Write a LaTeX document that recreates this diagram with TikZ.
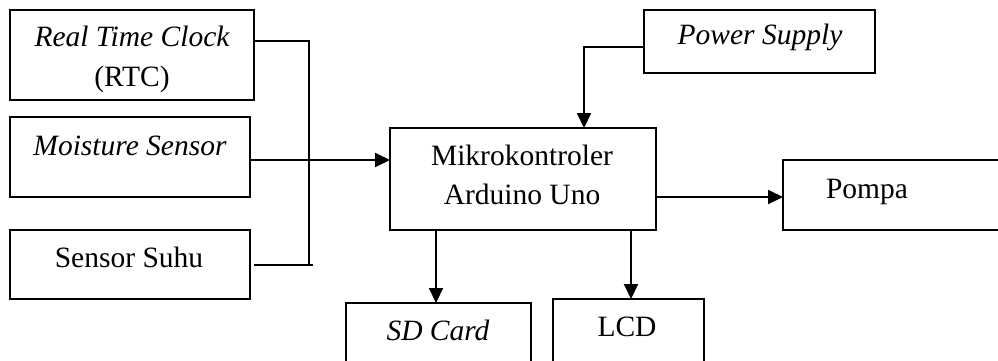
\documentclass[tikz,border=0pt]{standalone}
\usepackage{fontspec}
\setmainfont{Liberation Serif}
\usetikzlibrary{arrows.meta}
\begin{document}
\begin{tikzpicture}[x=1pt,y=-1pt,
  box/.style={draw,line width=1.8pt,rectangle,inner sep=0pt,outer sep=0pt},
  txt/.style={anchor=base,inner sep=0pt,font=\fontsize{29.5}{34}\selectfont},
  conn/.style={line width=2pt},
  arr/.style={conn,-{Triangle[length=15pt,width=14pt]}}]
\clip (0,0) rectangle (998,360);
\useasboundingbox (0,0) rectangle (998,360);
% boxes
\node[box,minimum width=244pt,minimum height=90pt] (rtc) at (132,55) {};
\node[box,minimum width=240pt,minimum height=80pt] (moist) at (130,157) {};
\node[box,minimum width=240pt,minimum height=69pt] (suhu) at (130,264.5) {};
\node[box,minimum width=231pt,minimum height=63pt] (ps) at (759.5,41.5) {};
\node[box,minimum width=266pt,minimum height=102pt] (mk) at (523,179) {};
\node[box,minimum width=220pt,minimum height=70pt] (pompa) at (893,195) {};
\node[box,minimum width=185pt,minimum height=62pt] (sd) at (438.5,334) {};
\node[box,minimum width=151pt,minimum height=66pt] (lcd) at (628.5,332) {};
% texts
\node[txt] (t1) at (132,46) {\itshape Real Time Clock};
\node[txt] (t2) at (132,86) {(RTC)};
\node[txt] (t3) at (130,155) {\itshape Moisture Sensor};
\node[txt] (t4) at (129,267) {Sensor Suhu};
\node[txt] (t5) at (760,44) {\itshape Power Supply};
\node[txt] (t6) at (522,165) {Mikrokontroler};
\node[txt] (t7) at (522,204) {Arduino Uno};
\node[txt] (t8) at (867,198) {Pompa};
\node[txt] (t9) at (438,340) {\itshape SD Card};
\node[txt] (t10) at (627,336) {LCD};
% junction coordinates
\coordinate (j1) at (309,41);
\coordinate (j2) at (309,265);
\coordinate (j3) at (313,265);
\coordinate (s0) at (254,265);
% connectors
\draw[conn] (rtc.east |- j1) -- (j1) -- (j2);
\draw[conn] (s0) -- (j3);
\draw[arr] (moist.east |- 0,160) -- (mk.west |- 0,160);
\draw[arr] (ps.west |- 0,47) -| (mk.north -| 584,0);
\draw[arr] (mk.east |- 0,197) -- (pompa.west |- 0,197);
\draw[arr] (mk.south -| 436,0) -- (sd.north -| 436,0);
\draw[arr] (mk.south -| 631,0) -- (lcd.north -| 631,0);
\end{tikzpicture}
\end{document}
